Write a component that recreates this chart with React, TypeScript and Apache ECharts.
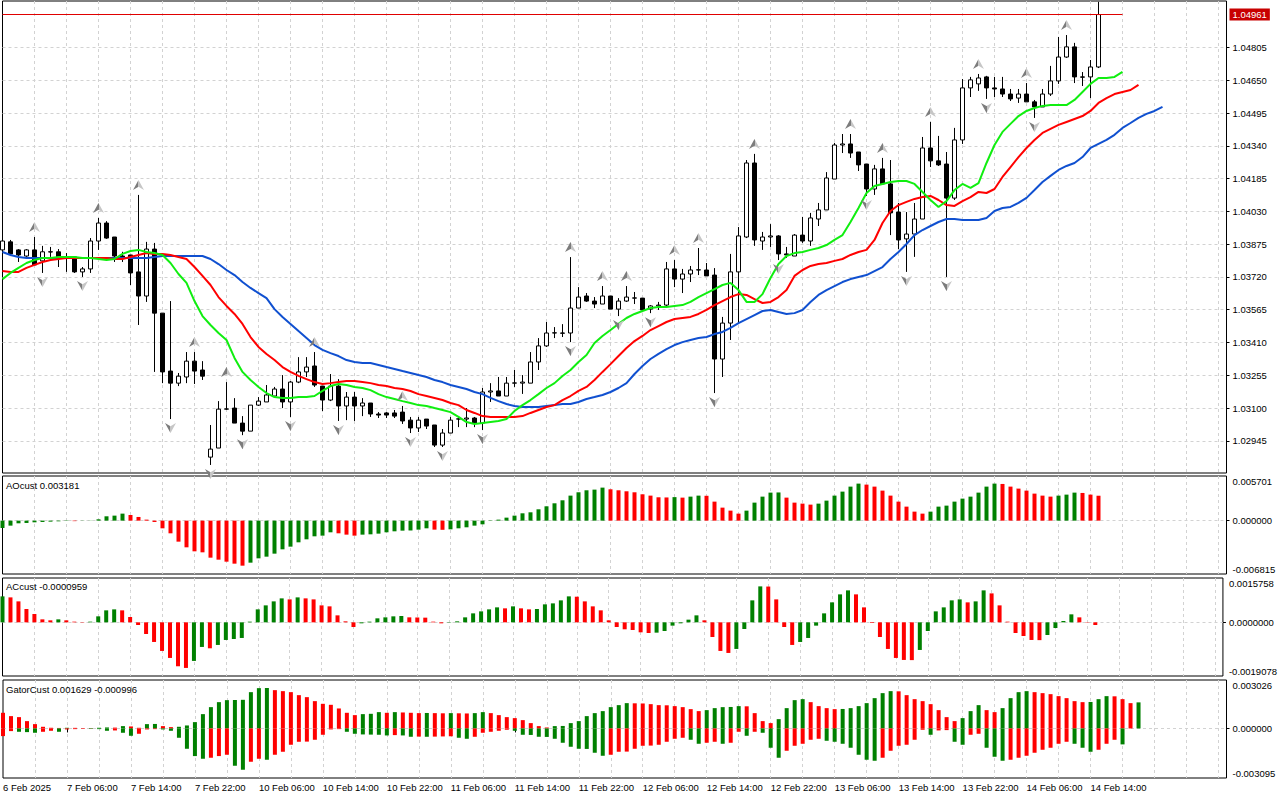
import React, { useEffect, useRef } from "react";
import * as echarts from "echarts";

// ---------- time axis tick labels (every 8 hourly bars) ----------
const xTickLabels = [
  "6 Feb 2025", "7 Feb 06:00", "7 Feb 14:00", "7 Feb 22:00", "10 Feb 06:00", "10 Feb 14:00",
  "10 Feb 22:00", "11 Feb 06:00", "11 Feb 14:00", "11 Feb 22:00", "12 Feb 06:00", "12 Feb 14:00",
  "12 Feb 22:00", "13 Feb 06:00", "13 Feb 14:00", "13 Feb 22:00", "14 Feb 06:00", "14 Feb 14:00",
];

// ---------- price axis ----------
const priceTicks = [
  1.02945, 1.031, 1.03255, 1.0341, 1.03565, 1.0372, 1.03875, 1.0403, 1.04185, 1.0434, 1.04495, 1.0465, 1.04805,
];
const priceMin = 1.02793;
const priceMax = 1.05025;

// ---------- OHLC (H1) ----------
const openP = [
  1.03848, 1.03886, 1.03848, 1.03819, 1.03848, 1.03796, 1.03839, 1.03839, 1.03815, 1.03815,
  1.03744, 1.03758, 1.0389, 1.03975, 1.03909, 1.03819, 1.03824, 1.03744, 1.0363, 1.03852,
  1.03549, 1.03275, 1.03218, 1.03247, 1.03322, 1.0328, 1.02868, 1.02911, 1.03095, 1.031,
  1.03029, 1.02991, 1.03114, 1.03129, 1.03157, 1.0319, 1.03129, 1.03223, 1.03271, 1.03299,
  1.03204, 1.03138, 1.03204, 1.0311, 1.03152, 1.0311, 1.03124, 1.03072, 1.03077, 1.03077,
  1.03081, 1.03043, 1.03006, 1.03048, 1.0302, 1.02925, 1.02982, 1.03048, 1.03048, 1.03053,
  1.03029, 1.03176, 1.03181, 1.03157, 1.03218, 1.03218, 1.03218, 1.03318, 1.03394, 1.03455,
  1.03455, 1.03455, 1.03573, 1.0363, 1.03606, 1.03592, 1.0363, 1.03568, 1.03606, 1.0362,
  1.0362, 1.03568, 1.03583, 1.03587, 1.03758, 1.0371, 1.03734, 1.03753, 1.03753, 1.03729,
  1.03332, 1.03502, 1.03744, 1.03909, 1.04259, 1.0389, 1.03909, 1.03914, 1.03829, 1.03819,
  1.03918, 1.0389, 1.03994, 1.04037, 1.04183, 1.04344, 1.04349, 1.04311, 1.04254, 1.04136,
  1.04231, 1.0416, 1.04027, 1.039, 1.03923, 1.03994, 1.0433, 1.04269, 1.04254, 1.04093,
  1.04368, 1.04614, 1.04633, 1.04666, 1.04614, 1.04609, 1.04585, 1.04566, 1.04585, 1.04548,
  1.04524, 1.04585, 1.04647, 1.0476, 1.04808, 1.04666, 1.04666, 1.04713,
];
const closeP = [
  1.0389, 1.03829, 1.03824, 1.03848, 1.03777, 1.03839, 1.03838, 1.03815, 1.03814, 1.03744,
  1.03758, 1.0389, 1.03975, 1.03904, 1.03819, 1.0381, 1.03739, 1.0363, 1.03852, 1.03549,
  1.03271, 1.03218, 1.03251, 1.03322, 1.03275, 1.03251, 1.02906, 1.03095, 1.03096, 1.03029,
  1.02991, 1.03114, 1.03133, 1.03162, 1.0319, 1.03129, 1.03223, 1.03271, 1.03294, 1.03209,
  1.03138, 1.03204, 1.0311, 1.03152, 1.0311, 1.03124, 1.03072, 1.03067, 1.03067, 1.03062,
  1.03039, 1.03006, 1.03043, 1.03015, 1.02925, 1.02982, 1.03043, 1.03049, 1.03053, 1.03029,
  1.03176, 1.03181, 1.03157, 1.03218, 1.03219, 1.03223, 1.03318, 1.03394, 1.03455, 1.03456,
  1.03454, 1.03573, 1.03625, 1.03606, 1.03592, 1.0363, 1.03568, 1.03606, 1.03625, 1.03621,
  1.03564, 1.03583, 1.03587, 1.03758, 1.0371, 1.03734, 1.03753, 1.03754, 1.03725, 1.03332,
  1.03502, 1.03744, 1.03914, 1.04259, 1.03895, 1.03909, 1.03914, 1.03829, 1.03824, 1.03918,
  1.0389, 1.03999, 1.04037, 1.04188, 1.04344, 1.04349, 1.04306, 1.0425, 1.04136, 1.04231,
  1.0416, 1.04023, 1.03895, 1.03923, 1.03994, 1.0433, 1.04269, 1.0425, 1.04093, 1.04368,
  1.04614, 1.04652, 1.04661, 1.04614, 1.04609, 1.04585, 1.04562, 1.04585, 1.04548, 1.04524,
  1.04585, 1.04647, 1.0476, 1.04808, 1.04666, 1.04665, 1.04713, 1.04961,
];
const highP = [
  1.039, 1.03895, 1.03852, 1.03852, 1.03909, 1.03867, 1.03862, 1.03852, 1.03833, 1.03819,
  1.03767, 1.03904, 1.03999, 1.03984, 1.03909, 1.03839, 1.03824, 1.04108, 1.03886, 1.03881,
  1.03549, 1.03606, 1.03266, 1.03365, 1.03365, 1.03322, 1.0302, 1.03133, 1.03223, 1.03147,
  1.03062, 1.03114, 1.03152, 1.03209, 1.032, 1.03256, 1.03228, 1.03341, 1.03341, 1.03365,
  1.03204, 1.03261, 1.03237, 1.03176, 1.03176, 1.03147, 1.03124, 1.03081, 1.03081, 1.03091,
  1.0311, 1.03058, 1.03058, 1.03048, 1.0302, 1.03001, 1.03058, 1.03058, 1.031, 1.03058,
  1.03195, 1.03218, 1.03247, 1.03247, 1.0328, 1.03256, 1.03365, 1.03431, 1.03507, 1.03483,
  1.03497, 1.03814, 1.03672, 1.03644, 1.03625, 1.03677, 1.0363, 1.0362, 1.03677, 1.03649,
  1.0362, 1.03587, 1.03602, 1.03791, 1.038, 1.03758, 1.03772, 1.03857, 1.03786, 1.03762,
  1.03531, 1.03829, 1.03956, 1.04273, 1.04302, 1.03933, 1.0397, 1.03918, 1.03862, 1.03923,
  1.04004, 1.04023, 1.0407, 1.04216, 1.04354, 1.04396, 1.04396, 1.04311, 1.04254, 1.0425,
  1.04283, 1.04273, 1.0407, 1.04027, 1.0407, 1.04382, 1.04453, 1.04387, 1.04311, 1.04425,
  1.04656, 1.04666, 1.0468, 1.04671, 1.04666, 1.04666, 1.04609, 1.04609, 1.04637, 1.04557,
  1.04609, 1.04718, 1.04855, 1.04864, 1.04827, 1.04689, 1.04746, 1.05021,
];
const lowP = [
  1.03839, 1.03819, 1.03791, 1.03815, 1.03777, 1.03739, 1.03815, 1.03767, 1.03744, 1.03739,
  1.0372, 1.03739, 1.03848, 1.039, 1.03791, 1.03791, 1.03682, 1.03493, 1.03602, 1.03271,
  1.03218, 1.03048, 1.03204, 1.03218, 1.03214, 1.03233, 1.02831, 1.02911, 1.03091, 1.03029,
  1.02972, 1.02991, 1.0311, 1.03129, 1.03152, 1.031, 1.03058, 1.03218, 1.03247, 1.032,
  1.03086, 1.03133, 1.03039, 1.03043, 1.03039, 1.03062, 1.03058, 1.03053, 1.03053, 1.03053,
  1.03025, 1.02982, 1.02987, 1.03001, 1.02916, 1.02916, 1.02982, 1.0301, 1.0301, 1.0301,
  1.02996, 1.03129, 1.03157, 1.03157, 1.032, 1.03167, 1.03218, 1.0328, 1.03389, 1.03431,
  1.03436, 1.03412, 1.03573, 1.03602, 1.03573, 1.03592, 1.03568, 1.03535, 1.03602, 1.03592,
  1.03554, 1.03549, 1.03564, 1.03578, 1.03672, 1.03644, 1.03696, 1.03729, 1.03725, 1.03171,
  1.03247, 1.03422, 1.03502, 1.03904, 1.03867, 1.03848, 1.03862, 1.038, 1.0381, 1.03819,
  1.03881, 1.03867, 1.03961, 1.04037, 1.04183, 1.04306, 1.04283, 1.04221, 1.04103, 1.04108,
  1.0416, 1.03918, 1.03852, 1.03744, 1.03815, 1.03994, 1.0424, 1.04245, 1.0372, 1.04084,
  1.04349, 1.04571, 1.046, 1.04562, 1.04571, 1.04571, 1.04552, 1.04543, 1.04548, 1.04472,
  1.04524, 1.04576, 1.04633, 1.04756, 1.04637, 1.04623, 1.04566, 1.04708,
];

// ---------- Alligator (shifted forward) ----------
const jaw = [
  1.03838, 1.03824, 1.03814, 1.0381, 1.0381, 1.0381, 1.0381, 1.0381, 1.0381, 1.0381,
  1.0381, 1.0381, 1.0381, 1.0381, 1.0381, 1.0381, 1.0381, 1.0381, 1.0381, 1.03814,
  1.03819, 1.03819, 1.03819, 1.03819, 1.03819, 1.03819, 1.03805, 1.03781, 1.03753, 1.03729,
  1.03696, 1.03668, 1.03644, 1.0362, 1.03568, 1.03531, 1.03498, 1.03464, 1.03431, 1.03398,
  1.03375, 1.0336, 1.03346, 1.03327, 1.03318, 1.03313, 1.03313, 1.03304, 1.03294, 1.03285,
  1.03275, 1.03266, 1.03256, 1.03247, 1.03233, 1.03223, 1.03209, 1.032, 1.0319, 1.03176,
  1.03166, 1.03148, 1.03133, 1.03119, 1.0311, 1.03105, 1.03105, 1.03105, 1.0311, 1.03114,
  1.03119, 1.03119, 1.03129, 1.03143, 1.03152, 1.03162, 1.03176, 1.03195, 1.03218, 1.03261,
  1.03299, 1.03332, 1.03356, 1.03379, 1.03398, 1.03412, 1.03422, 1.03431, 1.03436, 1.0345,
  1.0346, 1.03479, 1.03502, 1.03521, 1.0354, 1.03559, 1.03564, 1.03554, 1.03545, 1.03549,
  1.03564, 1.03602, 1.03635, 1.03658, 1.03677, 1.03696, 1.0371, 1.0372, 1.03729, 1.03748,
  1.03767, 1.03805, 1.03838, 1.03876, 1.03918, 1.03942, 1.03961, 1.0398, 1.03994, 1.03994,
  1.03989, 1.03989, 1.03989, 1.03999, 1.04032, 1.04046, 1.04051, 1.0407, 1.04094, 1.04131,
  1.04169, 1.04198, 1.04226, 1.04245, 1.04259, 1.04287, 1.0433, 1.04349, 1.04368, 1.04392,
  1.04425, 1.04448, 1.04472, 1.04491, 1.04505, 1.04524,
];
const teeth = [
  1.03748, 1.03744, 1.03744, 1.03763, 1.03777, 1.03791, 1.038, 1.03805, 1.0381, 1.0381,
  1.0381, 1.0381, 1.0381, 1.0381, 1.03805, 1.03805, 1.03814, 1.03824, 1.03833, 1.03829,
  1.03829, 1.03824, 1.03814, 1.03805, 1.03767, 1.03725, 1.03682, 1.03625, 1.03583, 1.03545,
  1.03498, 1.03436, 1.03389, 1.03356, 1.03327, 1.03294, 1.03271, 1.03252, 1.03237, 1.03223,
  1.03214, 1.03218, 1.03223, 1.03228, 1.03228, 1.03223, 1.03218, 1.03209, 1.03204, 1.03195,
  1.0319, 1.03181, 1.03166, 1.03157, 1.03148, 1.03138, 1.03124, 1.03114, 1.03091, 1.03077,
  1.03062, 1.03058, 1.03058, 1.03058, 1.03058, 1.03062, 1.03077, 1.03091, 1.03105, 1.03114,
  1.03138, 1.03157, 1.03181, 1.032, 1.03233, 1.03271, 1.03308, 1.03346, 1.03384, 1.03417,
  1.03441, 1.03469, 1.03488, 1.03507, 1.03521, 1.03526, 1.03531, 1.03545, 1.03564, 1.03587,
  1.03606, 1.03625, 1.03639, 1.03635, 1.03615, 1.03597, 1.03602, 1.03625, 1.03658, 1.03725,
  1.03753, 1.03772, 1.03781, 1.03786, 1.03796, 1.03805, 1.03824, 1.03838, 1.03848, 1.03895,
  1.03975, 1.04032, 1.0406, 1.04075, 1.04089, 1.04098, 1.04103, 1.04084, 1.0406, 1.04056,
  1.04079, 1.04098, 1.04122, 1.04117, 1.04136, 1.04193, 1.0424, 1.04287, 1.0433, 1.04368,
  1.04401, 1.0442, 1.04439, 1.04453, 1.04467, 1.04481, 1.04505, 1.04543, 1.04566, 1.04585,
  1.04595, 1.04604, 1.04628,
];
const lips = [
  1.0371, 1.03739, 1.03763, 1.03786, 1.038, 1.0381, 1.0381, 1.03814, 1.03814, 1.03814,
  1.0381, 1.0381, 1.03805, 1.038, 1.03805, 1.03829, 1.03843, 1.03848, 1.03838, 1.03833,
  1.03824, 1.03786, 1.03734, 1.03692, 1.03606, 1.03535, 1.03493, 1.03455, 1.03422, 1.03337,
  1.03271, 1.03233, 1.032, 1.03171, 1.03152, 1.03148, 1.03148, 1.03152, 1.03152, 1.03157,
  1.03181, 1.03204, 1.03214, 1.03209, 1.032, 1.03195, 1.03185, 1.03166, 1.03152, 1.03143,
  1.03133, 1.03124, 1.03114, 1.0311, 1.031, 1.03091, 1.03081, 1.03058, 1.03034, 1.03025,
  1.03029, 1.03034, 1.03039, 1.03048, 1.03086, 1.03114, 1.03138, 1.03166, 1.03195, 1.03218,
  1.03252, 1.0328, 1.03318, 1.03351, 1.03408, 1.03441, 1.03469, 1.03498, 1.03526, 1.03545,
  1.03559, 1.03573, 1.03578, 1.03578, 1.03583, 1.03587, 1.03602, 1.03625, 1.03644, 1.03663,
  1.03682, 1.03692, 1.03658, 1.03602, 1.03602, 1.03639, 1.03715, 1.03781, 1.03819, 1.03833,
  1.03838, 1.03848, 1.03857, 1.03871, 1.03895, 1.03918, 1.0398, 1.04046, 1.04117, 1.0415,
  1.0416, 1.04169, 1.04174, 1.04174, 1.0416, 1.04122, 1.04084, 1.04051, 1.04079, 1.04131,
  1.0416, 1.04141, 1.04164, 1.04259, 1.04344, 1.04406, 1.04444, 1.04481, 1.04505, 1.04519,
  1.04529, 1.04533, 1.04533, 1.04533, 1.04557, 1.04595, 1.04633, 1.04661, 1.04661, 1.04666,
  1.0469,
];

// ---------- Fractals (bar indices) ----------
const fractalUpBars = [4, 12, 17, 24, 28, 39, 50, 71, 75, 78, 84, 87, 94, 106, 110, 116, 122, 128, 133];
const fractalDownBars = [5, 10, 21, 26, 30, 36, 42, 51, 55, 60, 71, 77, 81, 89, 97, 108, 113, 118, 123, 129];

// ---------- Awesome Oscillator ----------
const aoMin = -0.006815;
const aoMax = 0.005701;
const aoValues = [
  -0.000937, -0.000639, -0.000341, -0.000298, -0.000213, -0.00017, -0.000128, -0.000085, -0.000043, -0.000064,
  -0.000021, 0.000021, 0.00017, 0.000554, 0.000639, 0.000895, 0.000724, 0.000469, 0.000128, -0.00017,
  -0.00098, -0.001619, -0.002684, -0.003408, -0.003919, -0.004047, -0.004729, -0.004984, -0.00524, -0.005495,
  -0.005751, -0.005368, -0.004814, -0.004601, -0.004217, -0.003664, -0.003323, -0.002769, -0.002386, -0.002002,
  -0.001917, -0.001491, -0.001619, -0.001789, -0.001917, -0.001789, -0.001747, -0.001661, -0.001491, -0.001363,
  -0.001278, -0.001257, -0.00115, -0.00098, -0.00115, -0.001172, -0.001108, -0.00098, -0.000852, -0.000639,
  -0.000469, -0.000043, 0.000128, 0.000383, 0.000639, 0.000937, 0.001065, 0.001448, 0.001832, 0.002215,
  0.002599, 0.003195, 0.003621, 0.003877, 0.003962, 0.004217, 0.004004, 0.003877, 0.003749, 0.003621,
  0.003365, 0.003195, 0.002982, 0.002961, 0.003003, 0.002939, 0.003067, 0.003195, 0.003174, 0.002428,
  0.001661, 0.001278, 0.000895, 0.001278, 0.0023, 0.003067, 0.003578, 0.0036, 0.002939, 0.0023,
  0.002173, 0.002045, 0.002173, 0.002556, 0.003195, 0.003706, 0.004345, 0.004729, 0.004601, 0.004345,
  0.003834, 0.003195, 0.002428, 0.001789, 0.00115, 0.000895, 0.00115, 0.001789, 0.001917, 0.002428,
  0.002812, 0.003067, 0.003578, 0.004345, 0.004729, 0.004686, 0.004345, 0.00409, 0.003834, 0.003451,
  0.003195, 0.003067, 0.003195, 0.003323, 0.003578, 0.003536, 0.003323, 0.003181,
];

// ---------- Accelerator Oscillator ----------
const acMin = -0.0019078;
const acMax = 0.0015758;
const acValues = [
  0.000923, 0.000887, 0.000745, 0.000473, 0.000296, 0.000106, 0.000071, 0.000106, 0.000071, 0.000024,
  0.000012, 0.000024, 0.000213, 0.000426, 0.000461, 0.000426, 0.000189, -0.000095, -0.000414, -0.000698,
  -0.001017, -0.001266, -0.001562, -0.001621, -0.001372, -0.000875, -0.000923, -0.000804, -0.000627, -0.000592,
  -0.000556, 0.000024, 0.000461, 0.000603, 0.000745, 0.000852, 0.000816, 0.000887, 0.000852, 0.000816,
  0.000603, 0.000568, 0.000248, 0.000035, -0.000166, -0.000035, 0.000024, 0.000142, 0.000177, 0.000213,
  0.000225, 0.000177, 0.000172, 0.000166, 0.000024, -0.000035, -0.000012, 0.000035, 0.000177, 0.000319,
  0.00039, 0.000461, 0.000532, 0.000497, 0.000568, 0.000497, 0.000461, 0.000473, 0.000639, 0.000674,
  0.000781, 0.000923, 0.000911, 0.000745, 0.000568, 0.000426, 0.000071, -0.000166, -0.000248, -0.000272,
  -0.000355, -0.000379, -0.000367, -0.000308, -0.000118, -0.000035, 0.000095, 0.000248, 0.000071, -0.000521,
  -0.001017, -0.001088, -0.000946, -0.000237, 0.000781, 0.001278, 0.001272, 0.000816, -0.000166, -0.000804,
  -0.000698, -0.000556, -0.000118, 0.000319, 0.00071, 0.000994, 0.001136, 0.000994, 0.000532, -0.000024,
  -0.000521, -0.000946, -0.001266, -0.001337, -0.001343, -0.000982, -0.000308, 0.00039, 0.000532, 0.000781,
  0.000816, 0.00071, 0.000745, 0.001136, 0.001029, 0.000603, 0.000024, -0.000379, -0.000485, -0.000627,
  -0.000633, -0.00045, -0.000201, 0.000047, 0.000284, 0.000177, 0.000012, -0.0000959,
];

// ---------- Gator Oscillator ----------
const gatorMin = -0.003095;
const gatorMax = 0.003026;
const gatorUp = [
  0.000978, 0.00077, 0.000707, 0.000458, 0.00027, 0.000104, 0.000042, 0.000031, 0.000042, 0.000037,
  0.000021, 0.000017, 0.000042, 0.000062, 0.000052, 0.000146, 0.000125, 0.000042, 0.00027, 0.000281,
  0.000146, 0.000083, 0.000104, 0.000187, 0.000395, 0.000894, 0.001331, 0.001643, 0.001768, 0.001778,
  0.001789, 0.002267, 0.002517, 0.002527, 0.002392, 0.00233, 0.002267, 0.00208, 0.001955, 0.001706,
  0.001539, 0.001477, 0.001248, 0.000978, 0.000832, 0.000894, 0.000915, 0.001019, 0.000978, 0.001019,
  0.000998, 0.000978, 0.000957, 0.000967, 0.000957, 0.000946, 0.000957, 0.000946, 0.000936, 0.000957,
  0.001019, 0.000957, 0.000832, 0.000707, 0.000645, 0.00052, 0.000333, 0.000146, 0.000062, 0.000146,
  0.000156, 0.000333, 0.000458, 0.00077, 0.000957, 0.001082, 0.001331, 0.001456, 0.001581, 0.00157,
  0.00156, 0.001518, 0.001456, 0.001446, 0.001394, 0.001331, 0.001206, 0.001082, 0.001144, 0.001269,
  0.001331, 0.001342, 0.001394, 0.001383, 0.000957, 0.000458, 0.000333, 0.000582, 0.001269, 0.001768,
  0.00183, 0.001643, 0.001394, 0.001269, 0.001206, 0.001217, 0.001269, 0.001394, 0.001581, 0.001893,
  0.002205, 0.00233, 0.002319, 0.00208, 0.00183, 0.001706, 0.001518, 0.001144, 0.000707, 0.000458,
  0.000645, 0.001082, 0.001456, 0.001144, 0.001019, 0.001269, 0.001893, 0.002267, 0.00233, 0.002267,
  0.002205, 0.002142, 0.002018, 0.001893, 0.001706, 0.001643, 0.001654, 0.00183, 0.002018, 0.002007,
  0.00183, 0.001581, 0.001629,
];
const gatorDown = [
  -0.000478, -0.000166, -0.000208, -0.000229, -0.00027, -0.000208, -0.000146, -0.000208, -0.000062, -0.000042,
  -0.000021, -0.000031, -0.000042, -0.000146, -0.000125, -0.00027, -0.000458, -0.000333, -0.000062, -0.000042,
  -0.000062, -0.000146, -0.000582, -0.001269, -0.001726, -0.001893, -0.00183, -0.001726, -0.001643, -0.00233,
  -0.002579, -0.00208, -0.001893, -0.001955, -0.001643, -0.001456, -0.001019, -0.000832, -0.000822, -0.000707,
  -0.000395, -0.000062, -0.000042, -0.000208, -0.000333, -0.000374, -0.000385, -0.000395, -0.000437, -0.000416,
  -0.000437, -0.00052, -0.00051, -0.00052, -0.00051, -0.000499, -0.000489, -0.000582, -0.000645, -0.00052,
  -0.00027, -0.000208, -0.000146, -0.000083, -0.000146, -0.000395, -0.000406, -0.00052, -0.00053, -0.000645,
  -0.000894, -0.001144, -0.001269, -0.001279, -0.001518, -0.001706, -0.001643, -0.001456, -0.001446, -0.001269,
  -0.001082, -0.001071, -0.001019, -0.000832, -0.000645, -0.000582, -0.000707, -0.000957, -0.000894, -0.000832,
  -0.000957, -0.000894, -0.000208, -0.000458, -0.000208, -0.00027, -0.001206, -0.00183, -0.001394, -0.001082,
  -0.000957, -0.000707, -0.000645, -0.00077, -0.000832, -0.000957, -0.001206, -0.001643, -0.001955, -0.002018,
  -0.00183, -0.001394, -0.001082, -0.001019, -0.000707, -0.000083, -0.000395, -0.000125, -0.000104, -0.000832,
  -0.001019, -0.000395, -0.000333, -0.001206, -0.001768, -0.002018, -0.001955, -0.00183, -0.001706, -0.001518,
  -0.001331, -0.001206, -0.000957, -0.000832, -0.000957, -0.001206, -0.001456, -0.001331, -0.000957, -0.000707,
  -0.000996,
];

const SLOTS = 154;
const GREEN = "#008000";
const RED = "#ff0000";
const FONT = '"Liberation Sans", Arial, sans-serif';
const FS = 9.5;

function directionColors(vals: number[], firstColor: string, useAbs: boolean): string[] {
  const out: string[] = [];
  vals.forEach((v, i) => {
    if (i === 0) {
      out.push(firstColor);
      return;
    }
    const a = useAbs ? Math.abs(v) : v;
    const b = useAbs ? Math.abs(vals[i - 1]) : vals[i - 1];
    out.push(a > b ? GREEN : a < b ? RED : out[i - 1]);
  });
  return out;
}

function coloredBars(vals: number[], colors: string[]) {
  return vals.map((v, i) => ({ value: v, itemStyle: { color: colors[i] } }));
}

export default function App() {
  const ref = useRef<HTMLDivElement>(null);

  useEffect(() => {
    if (!ref.current) return;
    const chart = echarts.init(ref.current, null, { renderer: "svg" });

    const cats = Array.from({ length: SLOTS }, (_, i) => String(i));
    const lastClose = closeP[closeP.length - 1];
    const showTick = (i: number) => i % 8 === 0 && i / 8 < xTickLabels.length;
    const showVGrid = (i: number) => i % 4 === 0 && i > 0;

    const gridBase = { left: 2.5, width: 1224, show: true, borderColor: "#000", borderWidth: 1, backgroundColor: "#fff" };
    const grid = [
      { ...gridBase, top: 1, height: 472 },
      { ...gridBase, top: 476, height: 98 },
      { ...gridBase, top: 578, height: 98 },
      { ...gridBase, top: 680, height: 98 },
    ];

    const splitStyle = { color: "#d2d2d2", type: [3, 3] as any, width: 1 };

    const xAxis = [0, 1, 2, 3].map((k) => ({
      type: "category",
      gridIndex: k,
      data: cats,
      boundaryGap: false,
      axisLine: { show: false },
      axisTick:
        k === 3
          ? { show: true, interval: (i: number) => showTick(i), length: 4, lineStyle: { color: "#000" } }
          : { show: false },
      axisLabel:
        k === 3
          ? {
              show: true,
              interval: (i: number) => showTick(i),
              formatter: (v: string) => xTickLabels[Number(v) / 8] ?? "",
              align: "left",
              margin: 4,
              color: "#000",
              fontSize: FS,
              fontFamily: FONT,
            }
          : { show: false },
      splitLine: { show: true, interval: (i: number) => showVGrid(i), lineStyle: splitStyle },
    }));

    const indicatorAxis = (k: number, min: number, max: number, decimals: number) => ({
      type: "value",
      gridIndex: k,
      position: "right",
      min,
      max,
      axisLine: { show: false },
      axisTick: { show: true, customValues: [0], length: 3, lineStyle: { color: "#000" } },
      axisLabel: {
        customValues: [min, 0, max],
        formatter: (v: number) => v.toFixed(decimals),
        margin: 6,
        color: "#000",
        fontSize: FS,
        fontFamily: FONT,
        verticalAlignMinLabel: "bottom",
        verticalAlignMaxLabel: "top",
      },
      splitLine: { show: true, lineStyle: splitStyle },
    });

    const yAxis = [
      {
        type: "value",
        gridIndex: 0,
        position: "right",
        min: priceMin,
        max: priceMax,
        axisLine: { show: false },
        axisTick: { show: true, customValues: priceTicks, length: 3, lineStyle: { color: "#000" } },
        axisLabel: {
          customValues: [...priceTicks, lastClose],
          margin: 3,
          formatter: (v: number) =>
            Math.abs(v - lastClose) < 1e-9 ? `{cur|${v.toFixed(5)}}` : `{n|${v.toFixed(5)}}`,
          rich: {
            n: { padding: [0, 0, 0, 3], color: "#000", fontSize: FS, fontFamily: FONT },
            cur: {
              backgroundColor: "#c80000",
              color: "#fff",
              padding: [1, 3, 1, 3],
              fontSize: FS,
              fontFamily: FONT,
            },
          },
        },
        splitLine: { show: true, lineStyle: splitStyle },
      },
      indicatorAxis(1, aoMin, aoMax, 6),
      indicatorAxis(2, acMin, acMax, 7),
      indicatorAxis(3, gatorMin, gatorMax, 6),
    ];

    const arrowFill = new echarts.graphic.LinearGradient(0, 0, 1, 0, [
      { offset: 0, color: "#7c7c7c" },
      { offset: 0.5, color: "#7c7c7c" },
      { offset: 0.5, color: "#c6c6c6" },
      { offset: 1, color: "#c6c6c6" },
    ]);

    const aoColors = directionColors(aoValues, GREEN, false);
    const acColors = directionColors(acValues, GREEN, false);
    const gUpColors = directionColors(gatorUp, RED, false);
    const gDownColors = directionColors(gatorDown, RED, true);

    const series: any[] = [
      {
        type: "candlestick",
        xAxisIndex: 0,
        yAxisIndex: 0,
        barWidth: 4,
        data: openP.map((o, i) => [o, closeP[i], lowP[i], highP[i]]),
        itemStyle: { color: "#ffffff", color0: "#000000", borderColor: "#000000", borderColor0: "#000000", borderWidth: 1 },
        markLine: {
          silent: true,
          symbol: ["none", "none"],
          label: { show: false },
          lineStyle: { color: "#e00000", width: 1, type: "solid" },
          data: [[{ coord: ["0", lastClose] }, { coord: [String(lips.length - 1), lastClose] }]],
        },
        z: 2,
      },
      {
        type: "line",
        xAxisIndex: 0,
        yAxisIndex: 0,
        data: jaw,
        showSymbol: false,
        symbol: "none",
        lineStyle: { color: "#1050d0", width: 2 },
        z: 3,
      },
      {
        type: "line",
        xAxisIndex: 0,
        yAxisIndex: 0,
        data: teeth,
        showSymbol: false,
        symbol: "none",
        lineStyle: { color: "#ff0000", width: 2 },
        z: 3,
      },
      {
        type: "line",
        xAxisIndex: 0,
        yAxisIndex: 0,
        data: lips,
        showSymbol: false,
        symbol: "none",
        lineStyle: { color: "#10ee10", width: 2 },
        z: 3,
      },
      {
        type: "scatter",
        xAxisIndex: 0,
        yAxisIndex: 0,
        data: fractalUpBars.map((i) => [String(i), highP[i]]),
        symbol: "path://M6,0 L12,11 L6,7.5 L0,11 Z",
        symbolSize: [11, 10],
        symbolOffset: [0, -10],
        itemStyle: { color: arrowFill, opacity: 1 },
        z: 4,
      },
      {
        type: "scatter",
        xAxisIndex: 0,
        yAxisIndex: 0,
        data: fractalDownBars.map((i) => [String(i), lowP[i]]),
        symbol: "path://M0,0 L6,3.5 L12,0 L6,11 Z",
        symbolSize: [11, 10],
        symbolOffset: [0, 9],
        itemStyle: { color: arrowFill, opacity: 1 },
        z: 4,
      },
      {
        type: "bar",
        xAxisIndex: 1,
        yAxisIndex: 1,
        barWidth: 4,
        data: coloredBars(aoValues, aoColors),
      },
      {
        type: "bar",
        xAxisIndex: 2,
        yAxisIndex: 2,
        barWidth: 4,
        data: coloredBars(acValues, acColors),
      },
      {
        type: "bar",
        xAxisIndex: 3,
        yAxisIndex: 3,
        barWidth: 4,
        barGap: "-100%",
        data: coloredBars(gatorUp, gUpColors),
      },
      {
        type: "bar",
        xAxisIndex: 3,
        yAxisIndex: 3,
        barWidth: 4,
        barGap: "-100%",
        data: coloredBars(gatorDown, gDownColors),
      },
    ];

    const labelFont = `${FS}px ${FONT}`;
    const graphic = [
      {
        type: "text",
        x: 6,
        y: 485,
        style: { text: `AOcust ${aoValues[aoValues.length - 1].toFixed(6)}`, fill: "#000", font: labelFont, verticalAlign: "middle" },
        z: 10,
      },
      {
        type: "text",
        x: 6,
        y: 586,
        style: { text: `ACcust ${acValues[acValues.length - 1].toFixed(7)}`, fill: "#000", font: labelFont, verticalAlign: "middle" },
        z: 10,
      },
      {
        type: "text",
        x: 6,
        y: 689,
        style: {
          text: `GatorCust ${gatorUp[gatorUp.length - 1].toFixed(6)} ${gatorDown[gatorDown.length - 1].toFixed(6)}`,
          fill: "#000",
          font: labelFont,
          verticalAlign: "middle",
        },
        z: 10,
      },
    ];

    chart.setOption({
      animation: false,
      backgroundColor: "#ffffff",
      textStyle: { fontFamily: FONT },
      grid,
      xAxis,
      yAxis,
      series,
      graphic,
    } as any);

    return () => chart.dispose();
  }, []);

  return <div ref={ref} style={{ position: "fixed", left: 0, top: 0, width: 1280, height: 800 }} />;
}
